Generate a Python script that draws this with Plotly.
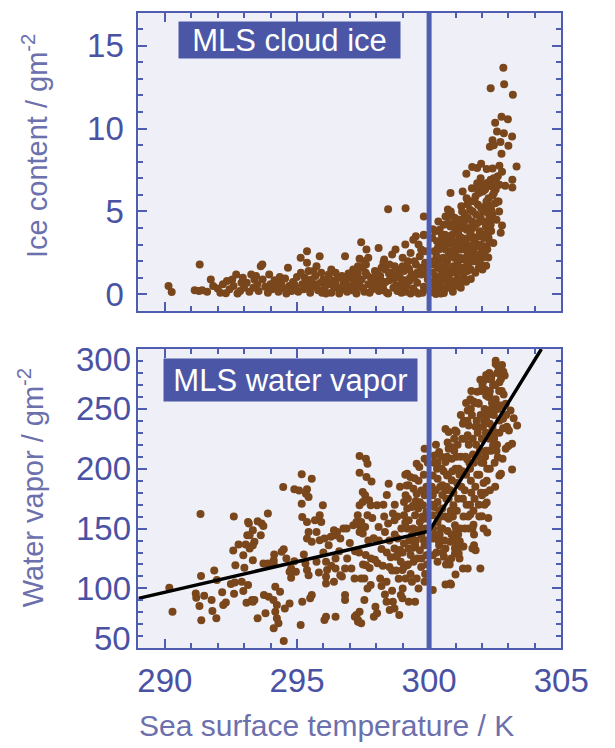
import plotly.graph_objects as go

# ---------------- data ----------------
threshold_sst = 300.0

# Top panel: MLS cloud ice (sea surface temperature K, ice content g m^-2)
ice_sst = [
    290.14, 290.26, 291.13, 291.29, 291.41, 291.74, 291.83, 292.00, 292.31, 292.70,
    292.55, 292.20, 292.45, 292.60, 292.85, 292.90, 293.00, 291.60, 292.10, 292.75,
    293.10, 293.27, 293.39, 293.20, 293.35, 293.50, 293.55, 293.70, 293.80, 293.90,
    294.00, 294.05, 294.15, 294.25, 294.30, 294.40, 294.50, 294.55, 294.70, 294.80,
    294.85, 294.95, 295.00, 295.05, 295.20, 295.25, 295.30, 295.45, 295.50, 295.60,
    295.70, 295.80, 295.90, 296.00, 296.05, 296.15, 296.20, 296.30, 296.40, 296.50,
    296.55, 296.65, 296.75, 296.85, 296.90, 297.00, 297.05, 297.15, 297.20, 297.30,
    297.40, 297.45, 297.55, 297.60, 297.70, 297.80, 297.85, 297.95, 298.00, 298.10,
    298.15, 298.25, 298.35, 298.40, 298.50, 298.55, 298.65, 298.70, 298.80, 298.90,
    298.95, 299.05, 299.10, 299.20, 299.25, 299.35, 299.40, 299.50, 299.55, 299.65,
    299.70, 299.80, 299.85, 299.90, 299.95, 299.60, 299.30, 299.00, 298.60, 298.30,
    291.32, 293.63, 293.69, 294.66, 295.14, 295.38, 295.38, 295.86, 295.44, 295.74,
    295.62, 295.92, 296.46, 296.64, 296.82, 297.13, 297.31, 297.49, 297.61, 297.43,
    297.37, 297.55, 297.63, 297.70, 298.09, 298.27, 298.73, 298.45, 299.11, 299.80,
    299.10, 299.40, 299.50, 299.80, 299.80, 299.70, 299.45, 299.20, 298.85, 298.50,
    296.10, 296.35, 296.60, 296.95, 297.25, 297.50, 297.75, 298.05, 298.20, 298.45,
    298.75, 299.15, 299.45, 299.75, 299.90, 299.60, 299.30, 298.95, 298.60, 298.35,
    297.10, 297.35, 297.90, 298.20, 298.80, 299.00, 299.25, 299.55, 299.85, 296.30,
    292.35, 292.95, 293.45, 293.95, 294.35, 294.60, 294.90, 295.15, 295.35, 295.55,
    295.75, 295.95, 296.25, 296.45, 296.70, 296.80, 297.08, 297.28, 297.65, 297.88,
    298.08, 298.28, 298.48, 298.68, 298.88, 299.08, 299.28, 299.48, 299.68, 299.88,
    302.81, 302.33, 302.84, 303.17, 302.50, 302.74, 302.98, 302.57, 302.83, 303.14,
    302.40, 302.30, 302.45, 302.70, 303.00, 302.74, 303.31, 301.63, 301.82, 301.97,
    301.41, 302.18, 302.40, 302.66, 302.76, 302.60, 302.45, 303.15, 303.15, 302.88,
    302.66, 302.20, 302.12, 302.33, 302.52, 302.40, 302.59, 300.81, 301.27, 301.89,
    301.76, 301.58, 301.46, 302.34, 302.40, 302.30, 302.18, 302.76, 302.71, 302.35,
    302.30, 302.20, 302.24, 302.16, 300.71, 300.86, 301.22, 301.46, 300.14, 300.40,
    301.58, 301.40, 301.07, 300.86, 300.56, 300.26, 300.14, 302.05, 301.95, 301.85,
    300.10, 300.15, 300.20, 300.25, 300.30, 300.35, 300.40, 300.45, 300.50, 300.55,
    300.60, 300.65, 300.70, 300.75, 300.80, 300.85, 300.90, 300.95, 301.00, 301.05,
    301.10, 301.15, 301.20, 301.25, 301.30, 301.35, 301.40, 301.45, 301.50, 301.55,
    301.60, 301.65, 301.70, 301.75, 301.80, 301.85, 301.90, 301.95, 302.00, 302.05,
    302.10, 302.15, 300.12, 300.22, 300.32, 300.42, 300.52, 300.62, 300.72, 300.82,
    300.92, 301.02, 301.12, 301.22, 301.32, 301.42, 301.52, 301.62, 301.72, 301.82,
    301.92, 302.02, 302.12, 300.18, 300.28, 300.38, 300.48, 300.58, 300.68, 300.78,
    300.88, 300.98, 301.08, 301.18, 301.28, 301.38, 301.48, 301.58, 301.68, 301.78,
    301.88, 301.98, 302.08, 300.35, 300.55, 300.75, 300.95, 301.15, 301.35, 301.55,
    301.75, 301.95, 300.45, 300.65, 300.85, 301.05, 301.25, 301.45, 301.65, 301.85,
    302.05, 302.25, 302.35, 302.45, 302.55, 302.65, 302.25, 302.50, 301.20, 300.90,
    300.13, 300.23, 300.33, 300.43, 300.53, 300.63, 300.73, 300.83, 300.93, 301.03,
    301.13, 301.23, 301.33, 301.43, 301.53, 301.63, 301.73, 301.83, 301.93, 302.03,
    302.13, 302.23, 302.33, 302.43, 302.53, 302.63, 300.27, 300.47, 300.67, 300.87,
    301.07, 301.27, 301.47, 301.67, 301.87, 302.07, 302.27, 300.37, 300.57, 300.77,
    300.97, 301.17, 301.37, 301.57, 301.77, 301.97, 302.17, 302.37, 300.17, 300.32,
    300.42, 300.62, 300.82, 301.02, 301.22, 301.42, 301.62, 301.82, 302.02, 302.22,
]
ice_content = [
    0.50, 0.14, 0.25, 0.20, 0.25, 0.90, 0.50, 0.35, 0.06, 1.20,
    0.90, 0.60, 0.30, 0.50, 0.20, 0.70, 0.40, 0.15, 0.10, 0.05,
    0.70, 1.20, 0.90, 0.15, 0.40, 0.60, 0.20, 0.90, 0.45, 0.10,
    0.60, 0.30, 0.85, 0.50, 0.15, 0.70, 0.35, 0.95, 0.50, 0.20,
    0.75, 0.40, 1.05, 0.15, 0.60, 0.30, 1.00, 0.80, 0.10, 0.45,
    1.10, 0.25, 0.70, 0.90, 0.35, 0.60, 1.20, 0.10, 0.80, 0.40,
    1.00, 0.25, 0.60, 0.85, 0.15, 0.50, 1.10, 0.30, 0.75, 1.25,
    0.45, 0.90, 0.15, 1.30, 0.60, 1.00, 0.30, 1.40, 0.70, 0.20,
    1.10, 0.50, 1.50, 0.10, 0.85, 1.30, 0.40, 1.70, 0.20, 1.00,
    0.60, 1.40, 0.15, 2.00, 0.80, 1.20, 0.35, 1.80, 0.70, 2.30,
    1.20, 0.45, 2.60, 1.60, 0.90, 3.00, 2.50, 2.20, 2.40, 2.10,
    1.80, 1.70, 1.80, 1.60, 2.20, 2.60, 1.90, 2.30, 1.40, 1.70,
    1.40, 1.30, 1.30, 1.00, 2.30, 1.50, 1.70, 1.60, 1.80, 3.14,
    2.14, 2.00, 2.70, 2.20, 2.80, 1.90, 2.70, 5.14, 5.20, 4.70,
    3.00, 3.30, 3.50, 3.60, 3.56, 2.70, 2.00, 1.60, 1.50, 1.80,
    0.05, 0.55, 0.05, 1.25, 0.05, 0.35, 0.10, 0.45, 0.80, 0.05,
    0.55, 0.50, 1.00, 0.10, 0.30, 0.05, 0.05, 0.10, 1.10, 0.75,
    0.95, 0.70, 0.95, 1.60, 1.30, 1.70, 1.50, 1.30, 1.90, 1.50,
    0.80, 1.00, 1.10, 1.20, 1.05, 0.05, 0.60, 1.30, 0.45, 0.90,
    0.60, 0.10, 0.90, 0.65, 1.10, 0.40, 0.25, 0.95, 1.15, 0.70,
    1.20, 0.25, 1.25, 0.95, 0.35, 0.85, 1.00, 0.15, 1.60, 1.20,
    13.68, 12.44, 12.68, 12.04, 10.36, 10.72, 10.56, 9.82, 9.72, 9.52,
    9.30, 8.90, 9.00, 9.20, 8.96, 8.48, 7.72, 7.68, 7.62, 7.88,
    7.28, 7.56, 7.60, 7.76, 7.40, 7.12, 7.00, 6.92, 6.44, 6.56,
    6.62, 6.72, 6.32, 6.92, 6.32, 5.96, 5.60, 6.12, 6.20, 6.12,
    5.92, 5.62, 5.42, 5.36, 4.80, 4.52, 4.32, 4.16, 3.72, 3.82,
    3.12, 2.72, 2.22, 1.72, 5.12, 4.72, 5.32, 5.52, 3.92, 3.90,
    0.92, 0.76, 0.52, 0.32, 0.08, 0.02, 0.12, 6.60, 7.00, 6.30,
    0.60, 1.80, 2.60, 1.10, 3.20, 0.40, 2.10, 1.50, 2.90, 0.90,
    3.60, 1.90, 0.50, 2.50, 4.10, 1.30, 3.00, 2.20, 3.80, 0.90,
    2.70, 4.50, 1.60, 3.40, 2.10, 4.80, 3.00, 1.40, 4.00, 2.50,
    3.50, 5.00, 2.00, 4.20, 3.00, 5.40, 2.40, 4.60, 3.60, 5.00,
    2.90, 4.10, 3.40, 0.20, 1.60, 3.00, 1.20, 2.70, 3.30, 0.70,
    1.70, 2.30, 3.60, 2.70, 1.00, 3.90, 1.90, 4.40, 3.30, 2.00,
    3.80, 2.20, 5.30, 0.80, 2.30, 1.00, 3.60, 0.30, 2.00, 1.50,
    3.60, 4.60, 1.90, 3.00, 4.00, 2.20, 3.40, 1.50, 2.70, 4.80,
    1.60, 2.80, 3.40, 4.40, 4.20, 3.50, 0.60, 0.90, 1.60, 5.10,
    1.30, 1.80, 0.05, 0.40, 2.60, 1.70, 5.00, 2.60, 4.00, 2.90,
    4.40, 5.80, 5.10, 6.10, 4.50, 5.00, 3.40, 5.50, 0.40, 0.15,
    1.30, 3.80, 2.80, 0.60, 2.20, 1.10, 4.30, 2.30, 4.20, 1.30,
    4.00, 0.80, 4.40, 2.00, 2.90, 2.10, 5.60, 4.30, 3.00, 6.20,
    2.30, 4.90, 4.20, 3.10, 6.80, 5.60, 1.90, 3.30, 3.00, 3.20,
    3.20, 1.30, 4.60, 3.00, 3.50, 2.60, 4.50, 2.70, 1.50, 0.90,
    2.80, 2.20, 2.70, 3.70, 2.30, 5.20, 5.60, 6.50, 2.00, 0.50,
    1.70, 4.70, 5.00, 4.40, 4.20, 5.80, 6.40, 6.70, 1.50, 3.80,
]

# Bottom panel: MLS water vapor (sea surface temperature K, water vapor g m^-2)
wv_sst = [
    290.17, 290.29, 291.35, 292.61, 293.18, 293.12, 292.79, 293.06, 292.59, 292.97,
    292.67, 293.01, 291.37, 291.87, 291.97, 291.17, 291.19, 291.49, 291.31, 291.77,
    291.80, 291.95, 291.38, 292.17, 292.31, 292.21, 292.50, 292.65, 292.91, 292.97,
    292.62, 293.09, 293.30,
    295.18, 295.56, 294.48, 294.90, 295.08, 295.38, 295.34,
    295.44, 295.18, 295.98, 293.90, 293.51, 293.66, 293.73,
    293.15, 293.33, 293.21, 293.63, 293.39, 293.33, 293.21, 293.33, 293.73, 293.90,
    294.12, 294.50, 294.42, 294.14, 294.12, 295.20, 295.38, 295.68, 295.86, 295.92,
    295.44, 295.74, 295.38, 295.56, 295.86, 296.04, 296.28, 296.46, 296.64, 296.40,
    296.52, 296.76, 296.88, 297.13, 297.25, 297.43, 297.37, 297.49, 294.90, 294.60,
    294.78, 294.96, 294.78, 294.72, 295.26, 295.32, 295.38, 295.44, 295.74, 295.83,
    296.10, 296.14, 296.10, 296.10, 296.46, 296.46, 296.64, 296.82, 297.06, 297.18,
    297.43, 297.61, 296.40, 296.82, 296.82, 297.55, 293.15, 293.39, 293.33, 293.75,
    293.93, 294.11, 294.24, 294.18, 294.24, 294.30, 293.51, 293.81, 294.18, 294.36,
    294.54, 294.72, 294.12, 294.50, 295.14, 295.50, 295.56, 295.20, 296.04, 296.10,
    296.46, 297.19, 297.31, 297.37,
    297.37, 297.61, 297.67, 297.37, 297.63, 297.82, 298.47, 297.49, 297.58, 297.37,
    297.49, 297.73, 297.79, 298.03, 298.27, 297.30, 297.67, 297.85, 298.63, 298.69,
    297.37, 297.43, 297.58, 298.09, 298.33, 298.45, 299.17, 299.29, 299.23, 299.53,
    299.63, 299.83, 299.83, 299.11, 299.05, 299.41, 299.53, 299.71, 299.83, 299.17,
    299.41, 299.59, 299.77, 299.90, 299.05, 299.23, 299.47, 299.65, 299.83, 299.17,
    299.35, 299.53, 299.71, 299.87, 298.81, 299.05, 299.23, 299.47, 299.65, 299.83,
    298.69, 298.75, 298.93, 299.17, 299.41, 299.71, 299.90, 298.99, 299.11, 299.35,
    299.53, 299.83, 298.93, 298.99, 299.23, 299.47, 298.87, 298.69, 298.51, 298.63,
    298.33, 298.39, 297.97, 298.03, 297.91, 297.25, 297.31, 297.43, 297.55, 297.79,
    297.67, 298.15, 298.39, 297.50, 297.75, 298.05, 298.25, 297.35, 297.60, 297.80,
    298.40, 298.55, 298.20, 297.95,
    300.20, 300.38, 300.62, 300.74, 300.86, 300.14, 300.32, 300.50, 300.68, 300.86,
    300.62, 300.74, 300.98, 300.14, 300.32, 300.50, 300.74, 300.92, 300.14, 300.32,
    300.50, 300.74, 300.98, 300.14, 300.38, 300.62, 300.80, 300.98, 300.14, 300.32,
    300.56, 300.74, 300.98, 300.14, 300.62, 300.80, 301.28, 301.46, 301.94, 301.64,
    301.76, 301.70, 301.16, 301.00, 301.12, 301.00, 300.83, 302.52, 302.52, 302.76,
    302.81, 302.28, 302.36, 302.16, 301.94, 302.06, 302.66, 302.12, 301.82, 302.28,
    302.16, 301.68, 301.88, 301.58, 301.46, 302.54, 302.72, 302.90, 303.08, 303.20,
    303.33, 302.80, 302.80, 302.66, 302.42, 302.57, 302.90, 303.00, 303.14, 302.60,
    302.78, 303.14, 302.66, 302.72, 302.30, 302.12, 302.00, 302.18, 301.56, 301.68,
    302.00, 302.24, 302.06, 302.20, 301.04, 301.28, 301.50, 301.88, 302.30,
    300.10, 300.20, 300.30, 300.40, 300.50, 300.60, 300.70, 300.80, 300.90, 301.00,
    301.10, 301.20, 301.30, 301.40, 301.50, 301.60, 301.70, 301.80, 301.90, 302.00,
    302.10, 302.20, 302.30, 302.40, 302.50, 302.60, 300.15, 300.25, 300.35, 300.45,
    300.55, 300.65, 300.75, 300.85, 300.95, 301.05, 301.15, 301.25, 301.35, 301.45,
    301.55, 301.65, 301.75, 301.85, 301.95, 302.05, 302.15, 302.25, 302.35, 302.45,
    302.55, 302.65, 300.18, 300.28, 300.38, 300.48, 300.58, 300.68, 300.78, 300.88,
    300.98, 301.08, 301.18, 301.28, 301.38, 301.48, 301.58, 301.68, 301.78, 301.88,
    301.98, 302.08, 302.18, 302.28, 302.38, 302.48, 302.58, 301.10, 301.30, 301.50,
    301.70, 301.90, 302.10, 302.30, 302.50, 301.60, 301.40, 301.20, 300.95, 300.70,
    301.15, 301.35, 301.55, 301.75, 301.95, 302.15, 302.35, 302.55, 302.75, 302.95,
    299.00, 299.10, 299.20, 299.30, 299.40, 299.50, 299.60, 299.70, 299.80, 299.90,
    298.50, 298.60, 298.70, 298.80, 298.90, 299.95, 299.85, 299.75, 299.65, 299.55,
    299.45, 299.35, 299.25, 299.15, 299.05, 298.95, 298.85, 298.75, 299.95, 299.92,
    300.12, 300.22, 300.32, 300.42, 300.52, 300.62, 300.72, 300.82, 300.92, 301.02,
    301.12, 301.22, 301.32, 301.42, 301.52, 301.62, 301.72, 301.82, 301.92, 302.02,
    302.12, 302.22, 302.32, 302.42, 302.52, 302.62, 302.72, 302.82, 302.92, 303.02,
    300.26, 300.46, 300.66, 300.86, 301.06, 301.26, 301.46, 301.66, 301.86, 302.06,
    302.26, 302.46, 302.66, 302.86, 301.36, 301.56, 301.76, 301.96, 302.16, 302.36,
    300.44, 300.64, 300.84, 301.04, 301.24, 301.44, 301.64, 301.84, 302.04, 302.24,
    298.10, 298.30, 298.50, 298.70, 298.90, 299.10, 299.30, 299.50, 299.70, 299.90,
    298.20, 298.40, 298.60, 298.80, 299.00, 299.20, 299.40, 299.60, 299.80, 299.95,
    296.00, 296.20, 296.60, 296.90, 297.00, 297.20, 297.70, 297.90, 296.30, 296.70,
]
wv_content = [
    100.6, 80.6, 162.2, 160.0, 154.2, 144.4, 136.7, 136.7, 131.7, 127.8,
    119.4, 117.2, 110.3, 115.0, 107.0, 95.8, 92.2, 93.9, 85.3, 90.3,
    81.1, 75.0, 73.3, 96.7, 88.3, 86.1, 103.6, 105.0, 105.6, 97.8,
    95.6, 88.1, 90.3,
    195.3, 191.7, 184.7, 182.8, 181.9, 182.8, 179.2,
    176.4, 170.8, 169.4, 162.5, 156.1, 154.2, 152.2,
    155.6, 148.6, 144.4, 144.4, 138.9, 136.1, 133.3, 123.6, 120.8, 120.8,
    120.8, 132.8, 130.6, 128.3, 123.6, 159.7, 155.6, 157.0, 161.1, 155.6,
    147.2, 147.2, 141.7, 138.9, 140.3, 141.7, 143.1, 144.4, 141.7, 148.6,
    147.2, 150.0, 150.0, 152.8, 155.6, 155.6, 147.2, 145.8, 122.8, 125.0,
    116.7, 113.9, 108.9, 113.9, 128.3, 120.8, 115.3, 111.1, 122.2, 113.3,
    122.2, 115.3, 109.7, 104.2, 125.0, 116.7, 111.1, 116.7, 116.7, 108.3,
    108.3, 119.4, 105.6, 94.4, 90.3, 90.3, 102.8, 90.3, 88.9, 94.4,
    93.0, 90.3, 86.1, 80.6, 75.0, 70.8, 75.0, 79.2, 101.4, 97.2,
    83.3, 87.5, 66.7, 56.1, 69.4, 91.7, 94.4, 88.9, 73.6, 76.4,
    76.4, 76.4, 72.2, 80.6,
    210.6, 208.3, 204.2, 196.7, 193.1, 189.4, 187.5, 180.6, 177.8, 169.4,
    172.2, 173.6, 169.4, 169.4, 170.0, 161.1, 161.1, 158.9, 162.5, 156.9,
    152.8, 148.6, 151.4, 151.4, 147.2, 154.2, 195.8, 193.1, 186.1, 204.2,
    201.4, 216.7, 208.3, 177.8, 172.2, 183.3, 179.2, 181.9, 177.8, 166.7,
    169.4, 166.7, 169.4, 163.9, 161.1, 156.9, 161.1, 155.6, 158.3, 150.0,
    144.4, 148.6, 144.4, 150.0, 141.7, 137.5, 133.3, 136.1, 131.9, 136.1,
    133.3, 126.4, 122.2, 119.4, 122.2, 125.0, 127.8, 115.3, 108.3, 105.6,
    108.3, 105.6, 94.4, 91.7, 88.9, 88.9, 77.8, 83.3, 81.9, 88.9,
    95.0, 88.9, 84.7, 79.2, 76.4, 77.8, 73.6, 70.8, 108.3, 102.8,
    100.0, 108.3, 105.6, 120.0, 117.0, 121.0, 119.0, 130.0, 128.0, 125.0,
    130.0, 126.0, 133.0, 124.0,
    211.0, 213.9, 205.6, 216.7, 208.3, 194.4, 191.7, 186.1, 194.4, 190.3,
    233.3, 230.6, 231.9, 177.8, 172.2, 166.7, 175.0, 169.4, 161.1, 155.6,
    150.0, 158.3, 152.8, 141.7, 136.1, 133.3, 138.9, 133.3, 127.8, 122.2,
    126.4, 122.2, 129.2, 98.6, 103.3, 104.2, 116.7, 116.7, 116.7, 133.3,
    131.9, 136.1, 139.4, 133.9, 129.2, 111.7, 103.3, 290.3, 287.5, 286.7,
    281.1, 280.0, 277.8, 278.3, 274.4, 273.6, 272.2, 266.1, 264.4, 261.7,
    261.1, 256.1, 254.2, 250.0, 248.6, 254.2, 252.8, 254.2, 248.6, 242.2,
    236.1, 241.7, 233.9, 240.3, 219.4, 220.0, 216.7, 218.9, 220.8, 209.7,
    208.3, 199.4, 194.4, 195.8, 182.0, 180.0, 177.8, 171.7, 161.7, 153.3,
    160.3, 158.9, 150.0, 146.7, 230.6, 237.5, 236.1, 234.7, 237.5,
    185.0, 168.0, 200.0, 145.0, 178.0, 160.0, 148.0, 182.0, 160.0, 200.0,
    175.0, 210.0, 160.0, 195.0, 220.0, 180.0, 205.0, 240.0, 195.0, 225.0,
    250.0, 200.0, 265.0, 235.0, 270.0, 250.0, 150.0, 182.0, 140.0, 160.0,
    198.0, 175.0, 160.0, 145.0, 215.0, 165.0, 195.0, 225.0, 182.0, 240.0,
    200.0, 225.0, 185.0, 210.0, 245.0, 205.0, 230.0, 260.0, 215.0, 245.0,
    230.0, 265.0, 205.0, 130.0, 165.0, 200.0, 140.0, 210.0, 120.0, 198.0,
    140.0, 220.0, 150.0, 175.0, 210.0, 160.0, 190.0, 165.0, 220.0, 170.0,
    205.0, 240.0, 190.0, 225.0, 255.0, 205.0, 280.0, 145.0, 135.0, 150.0,
    145.0, 160.0, 170.0, 200.0, 185.0, 265.0, 255.0, 245.0, 225.0, 222.0,
    125.0, 150.0, 170.0, 255.0, 265.0, 215.0, 275.0, 215.0, 265.0, 235.0,
    130.0, 155.0, 175.0, 128.0, 150.0, 140.0, 190.0, 118.0, 195.0, 140.0,
    140.0, 115.0, 145.0, 160.0, 132.0, 180.0, 112.0, 160.0, 172.0, 125.0,
    192.0, 168.0, 140.0, 186.0, 118.0, 150.0, 108.0, 115.0, 205.0, 120.0,
    170.0, 145.0, 205.0, 185.0, 130.0, 182.0, 195.0, 165.0, 180.0, 150.0,
    200.0, 185.0, 240.0, 170.0, 205.0, 245.0, 175.0, 195.0, 215.0, 270.0,
    210.0, 245.0, 230.0, 270.0, 258.0, 285.0, 275.0, 262.0, 245.0, 232.0,
    220.0, 210.0, 185.0, 218.0, 188.0, 198.0, 228.0, 212.0, 255.0, 188.0,
    275.0, 225.0, 230.0, 278.0, 225.0, 258.0, 235.0, 180.0, 240.0, 250.0,
    150.0, 120.0, 125.0, 210.0, 135.0, 208.0, 150.0, 230.0, 235.0, 215.0,
    140.0, 160.0, 118.0, 170.0, 185.0, 195.0, 112.0, 173.0, 150.0, 185.0,
    102.0, 178.0, 98.0, 128.0, 100.0, 120.0, 134.0, 100.0, 140.0, 160.0,
    130.0, 136.0, 131.0, 125.0, 138.0, 131.0, 140.0, 142.0, 119.0, 110.0,
]

# Piecewise linear fit drawn on the bottom panel
fit_sst = [289.0, 300.0, 304.25]
fit_wv = [91.7, 147.8, 300.0]

wv_tick_values = [50, 100, 150, 200, 250, 300]
panel_labels = ["MLS cloud ice", "MLS water vapor"]
ice_title = "Ice content / gm<sup>-2</sup>"
wv_title = "Water vapor / gm<sup>-2</sup>"
x_title = "Sea surface temperature / K"

# ---------------- styling ----------------
W, H = 615, 748
AXIS_BLUE = "#4f5db0"
TICK_TEXT = "#4a52a3"
TITLE_TEXT = "#6c70ad"
BOX_BLUE = "#4b57a6"
PANEL_BG = "#eff0f7"
DOT = "#7a461b"
FONT = "Liberation Sans, Arial, sans-serif"
TICK_SIZE = 33

xdom = [145 / W, 588 / W]
top_dom = [(H - 311.7) / H, (H - 12.7) / H]
bot_dom = [(H - 650) / H, (H - 350) / H]

fig = go.Figure()
fig.add_trace(go.Scatter(x=ice_sst, y=ice_content, mode="markers",
                         marker=dict(color=DOT, size=8, line=dict(width=0)),
                         xaxis="x", yaxis="y", showlegend=False))
fig.add_trace(go.Scatter(x=wv_sst, y=wv_content, mode="markers",
                         marker=dict(color=DOT, size=8, line=dict(width=0)),
                         xaxis="x2", yaxis="y2", showlegend=False))
fig.add_trace(go.Scatter(x=fit_sst, y=fit_wv, mode="lines",
                         line=dict(color="black", width=3.5),
                         xaxis="x2", yaxis="y2", showlegend=False))


def axis_common():
    return dict(showline=True, linecolor=AXIS_BLUE, linewidth=2, mirror="ticks",
                ticks="inside", ticklen=9, tickwidth=1.5, tickcolor=AXIS_BLUE,
                showgrid=False, zeroline=False, ticklabeloverflow="allow",
                tickfont=dict(family=FONT, size=TICK_SIZE, color=TICK_TEXT))


def minor(dt, t0):
    return dict(dtick=dt, tick0=t0, ticklen=5, tickwidth=1.5,
                tickcolor=AXIS_BLUE, ticks="inside", showgrid=False)


xa = axis_common()
xa.update(range=[289, 305], domain=xdom, anchor="y", tick0=290, dtick=5,
          showticklabels=False, minor=minor(1, 290))
xa2 = axis_common()
xa2.update(range=[289, 305], domain=xdom, anchor="y2", tick0=290, dtick=5,
           ticklabelstandoff=2, minor=minor(1, 290))
ya = axis_common()
ya.update(range=[-1, 17], domain=top_dom, anchor="x", tick0=0, dtick=5,
          ticklabelstandoff=6, minor=minor(1, 0))
ya2 = axis_common()
ya2.update(range=[50, 300], domain=bot_dom, anchor="x2", tick0=50, dtick=50,
           showticklabels=False, minor=minor(10, 50))

fig.update_layout(
    width=W, height=H, margin=dict(l=0, r=0, t=0, b=0),
    paper_bgcolor="white", plot_bgcolor=PANEL_BG,
    xaxis=xa, xaxis2=xa2, yaxis=ya, yaxis2=ya2,
    showlegend=False,
)

# bottom-panel y tick labels (end labels nudged inside, as in the reference)
for v in wv_tick_values:
    shift = -10 if v == wv_tick_values[-1] else (10 if v == wv_tick_values[0] else 0)
    fig.add_annotation(text=str(v), xref="paper", yref="y2", x=(145 - 6) / W, y=v,
                       xanchor="right", yanchor="middle", yshift=shift,
                       showarrow=False,
                       font=dict(family=FONT, size=TICK_SIZE, color=TICK_TEXT))

# vertical threshold lines
for xr, yr in [("x", "y domain"), ("x2", "y2 domain")]:
    fig.add_shape(type="line", xref=xr, yref=yr,
                  x0=threshold_sst, x1=threshold_sst, y0=0, y1=1,
                  line=dict(color=AXIS_BLUE, width=5), layer="above")

# panel labels
fig.add_annotation(text=panel_labels[0], xref="paper", yref="paper",
                   x=186.7 / W, y=(H - 21) / H, xanchor="left", yanchor="top",
                   showarrow=False, bgcolor=BOX_BLUE, width=215, height=30,
                   borderpad=3, font=dict(family=FONT, size=31, color="white"))
fig.add_annotation(text=panel_labels[1], xref="paper", yref="paper",
                   x=171 / W, y=(H - 359.3) / H, xanchor="left", yanchor="top",
                   showarrow=False, bgcolor=BOX_BLUE, width=247, height=36,
                   borderpad=3, font=dict(family=FONT, size=31, color="white"))

# axis titles
fig.add_annotation(text=ice_title, xref="paper", yref="paper",
                   x=36 / W, y=(H - 146) / H, xanchor="center", yanchor="middle",
                   textangle=-90, showarrow=False,
                   font=dict(family=FONT, size=29, color=TITLE_TEXT))
fig.add_annotation(text=wv_title, xref="paper", yref="paper",
                   x=32 / W, y=(H - 489) / H, xanchor="center", yanchor="middle",
                   textangle=-90, showarrow=False,
                   font=dict(family=FONT, size=29, color=TITLE_TEXT))
fig.add_annotation(text=x_title, xref="paper", yref="paper",
                   x=342 / W, y=(H - 727) / H, xanchor="center", yanchor="middle",
                   showarrow=False,
                   font=dict(family=FONT, size=30, color=TITLE_TEXT))

fig.write_html("out.html", config={"displayModeBar": False},
               post_script="document.body.style.margin='0';")
